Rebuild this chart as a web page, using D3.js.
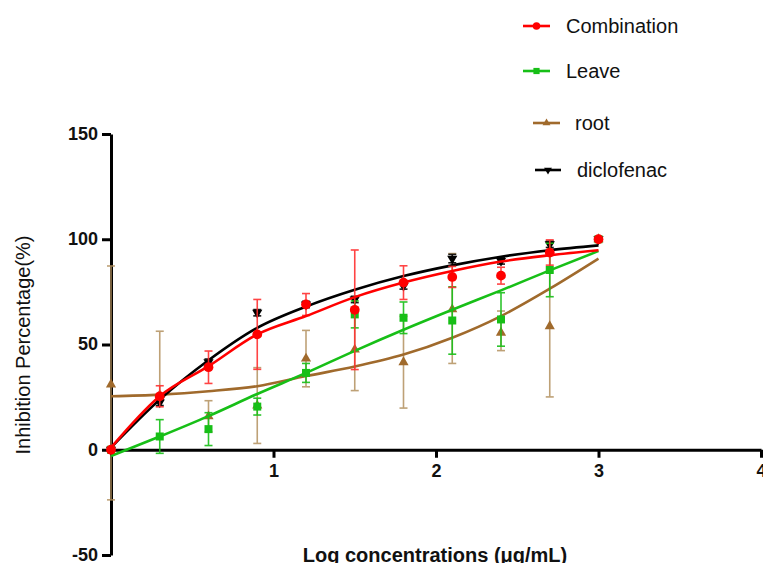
<!DOCTYPE html>
<html>
<head>
<meta charset="utf-8">
<script src="https://cdn.jsdelivr.net/npm/d3@7"></script>
<style>
  body { margin: 0; background: #fff; }
  svg { display: block; font-family: Arial, "Liberation Sans", sans-serif; }
</style>
</head>
<body>
<svg width="763" height="563"></svg>
<script>
// log concentration (x) and inhibition (%)
const logConc = [0, 0.3, 0.6, 0.9, 1.2, 1.5, 1.8, 2.1, 2.4, 2.7, 3];

const combination    = [0, 25.4, 39.2, 54.8, 69.0, 66.5, 79.4, 82.1, 82.7, 93.7, 100];
const combinationErr = [0, 5, 7.7, 16.6, 5.2, 28.4, 8, 5, 4, 6, 0];
const combinationFit = [1, 25.4, 39.7, 54.8, 63.5, 72.5, 79.4, 84.9, 89.4, 92.4, 94.8];

const leave    = [0, 6.3, 9.8, 20.5, 36.5, 64.3, 62.7, 61.4, 61.9, 85.4, 100];
const leaveErr = [0, 8, 7.8, 4, 4.5, 6.4, 7.5, 16, 12.7, 12.7, 0];
const leaveFit = [-3, 6.3, 16, 26.5, 36.5, 47, 57, 66.5, 75.7, 85.2, 94.4];

const root        = [31, 26, 15.9, 21, 43.3, 47.6, 41.6, 66.7, 55.6, 58.7, 100];
const rootErrUp   = [56.3, 30.3, 7.4, 18, 13.4, 19.5, 21.8, 26.5, 10.3, 33.6, 0];
const rootErrDown = [54.8, 0, 7.4, 18, 13.4, 19.5, 21.8, 25.7, 8.5, 33.6, 0];
const rootFit     = [25.4, 26.2, 27.8, 30.2, 35, 39.5, 45.2, 53.2, 63.5, 76.5, 90.8];

const diclofenac    = [0, 22.5, 41.6, 65.1, 69, 71.4, 77.8, 90.8, 89.7, 97.6, 100];
const diclofenacErr = [0, 1.5, 1.5, 1.5, 1.5, 1.5, 1.5, 2, 1.5, 1.5, 0];
const diclofenacFit = [1, 23.8, 42.5, 57.9, 68, 76, 82.5, 87.6, 91.7, 94.8, 97.1];

const xTicks = [1, 2, 3, 4];
const yTicks = [-50, 0, 50, 100, 150];

const svg = d3.select("svg");
const x = d3.scaleLinear().domain([0, 4]).range([111, 761]);
const y = d3.scaleLinear().domain([-50, 150]).range([555, 134]);

const series = [
  {name: "root", vals: root, up: rootErrUp, down: rootErrDown, fit: rootFit,
   color: "#a06a2c", errColor: "#b3915f", symbol: d3.symbolTriangle, size: 45, rotate: 0,
   legend: {x1: 533, x2: 560, y: 123, tx: 575}},
  {name: "diclofenac", vals: diclofenac, up: diclofenacErr, down: diclofenacErr, fit: diclofenacFit,
   color: "#000", errColor: "#000", symbol: d3.symbolTriangle, size: 45, rotate: 180,
   legend: {x1: 535, x2: 561, y: 170, tx: 577}},
  {name: "Leave", vals: leave, up: leaveErr, down: leaveErr, fit: leaveFit,
   color: "#17bf17", errColor: "#17bf17", symbol: d3.symbolSquare, size: 64, rotate: 0,
   legend: {x1: 523, x2: 550, y: 71, tx: 566}},
  {name: "Combination", vals: combination, up: combinationErr, down: combinationErr, fit: combinationFit,
   color: "#ff0000", errColor: "#ff3030", symbol: d3.symbolCircle, size: 75, rotate: 0,
   legend: {x1: 523, x2: 550, y: 26, tx: 566}}
];

// axes
const plain = function(d) { return String(d); };
const xAxis = svg.append("g")
    .attr("transform", "translate(0," + y(0) + ")")
    .call(d3.axisBottom(x).tickValues(xTicks).tickFormat(plain)
      .tickSize(8).tickSizeOuter(0).tickPadding(6));
const yAxis = svg.append("g")
    .attr("transform", "translate(" + x(0) + ",0)")
    .call(d3.axisLeft(y).tickValues(yTicks).tickFormat(plain)
      .tickSize(9).tickSizeOuter(0).tickPadding(4));

[xAxis, yAxis].forEach(function(a) {
  a.select(".domain").attr("stroke", "#000").attr("stroke-width", 3);
  a.selectAll(".tick line").attr("stroke", "#000").attr("stroke-width", 3);
  a.selectAll(".tick text")
      .attr("fill", "#111")
      .style("font-size", "18px")
      .style("font-weight", "bold")
      .style("font-family", "Arial, 'Liberation Sans', sans-serif");
});
yAxis.selectAll(".tick text").attr("dy", "0.3em");

svg.append("text")
    .attr("transform", "translate(30,345) rotate(-90)")
    .attr("text-anchor", "middle")
    .style("font-size", "20px")
    .attr("fill", "#111")
    .text("Inhibition Percentage(%)");

svg.append("text")
    .attr("x", 435).attr("y", 562)
    .attr("text-anchor", "middle")
    .style("font-size", "20px")
    .style("font-weight", "bold")
    .attr("fill", "#111")
    .text("Log concentrations (\u03bcg/mL)");

const line = d3.line()
    .x(function(d) { return x(d[0]); })
    .y(function(d) { return y(d[1]); })
    .curve(d3.curveMonotoneX);

const plot = svg.append("g");

series.forEach(function(s) {
  const g = plot.append("g");
  const pts = logConc.map(function(c, i) { return {c: c, v: s.vals[i], up: s.up[i], down: s.down[i]}; });

  // error bars
  const eb = g.selectAll(".eb").data(pts.filter(function(d) { return d.up > 0 || d.down > 0; }))
    .enter().append("g")
      .attr("stroke", s.errColor)
      .attr("stroke-width", 1.6)
      .attr("opacity", s.name === "root" ? 0.85 : 0.9);
  eb.append("line")
      .attr("x1", function(d) { return x(d.c); }).attr("x2", function(d) { return x(d.c); })
      .attr("y1", function(d) { return y(d.v + d.up); }).attr("y2", function(d) { return y(d.v - d.down); });
  eb.filter(function(d) { return d.up > 0; }).append("line")
      .attr("x1", function(d) { return x(d.c) - 4; }).attr("x2", function(d) { return x(d.c) + 4; })
      .attr("y1", function(d) { return y(d.v + d.up); }).attr("y2", function(d) { return y(d.v + d.up); });
  eb.filter(function(d) { return d.down > 0; }).append("line")
      .attr("x1", function(d) { return x(d.c) - 4; }).attr("x2", function(d) { return x(d.c) + 4; })
      .attr("y1", function(d) { return y(d.v - d.down); }).attr("y2", function(d) { return y(d.v - d.down); });

  // fitted curve
  g.append("path")
      .datum(logConc.map(function(c, i) { return [c, s.fit[i]]; }))
      .attr("fill", "none")
      .attr("stroke", s.color)
      .attr("stroke-width", 2.6)
      .attr("d", line);

  // markers
  g.selectAll(".pt").data(pts).enter().append("path")
      .attr("d", d3.symbol().type(s.symbol).size(s.size))
      .attr("fill", s.color)
      .attr("transform", function(d) { return "translate(" + x(d.c) + "," + y(d.v) + ") rotate(" + s.rotate + ")"; });

  // legend
  const lg = svg.append("g");
  lg.append("line")
      .attr("x1", s.legend.x1).attr("x2", s.legend.x2)
      .attr("y1", s.legend.y).attr("y2", s.legend.y)
      .attr("stroke", s.color).attr("stroke-width", 2.6);
  lg.append("path")
      .attr("d", d3.symbol().type(s.symbol).size(s.size * 0.6))
      .attr("fill", s.color)
      .attr("transform", "translate(" + (s.legend.x1 + s.legend.x2) / 2 + "," + s.legend.y + ") rotate(" + s.rotate + ")");
  lg.append("text")
      .attr("x", s.legend.tx).attr("y", s.legend.y + 7)
      .style("font-size", "20px")
      .attr("fill", "#111")
      .text(s.name);
});
</script>
</body>
</html>
